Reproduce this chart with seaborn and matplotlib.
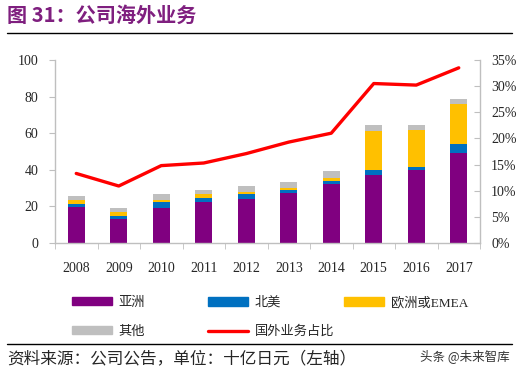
import seaborn as sns
import matplotlib.pyplot as plt
import matplotlib.lines as mlines
import matplotlib.patches as mpatches
import pandas as pd
import numpy as np

# Data (十亿日元)
years = ['2008', '2009', '2010', '2011', '2012', '2013', '2014', '2015', '2016', '2017']
asia = [19.8, 12.9, 19.0, 22.2, 23.9, 27.5, 32.4, 37.3, 40.1, 49.2]
north_america = [1.7, 1.8, 3.2, 2.6, 2.7, 1.6, 1.5, 2.8, 1.4, 4.9]
emea = [1.8, 2.1, 1.1, 2.1, 1.1, 0.9, 1.8, 21.3, 20.4, 21.7]
other = [2.5, 2.3, 3.5, 2.2, 3.3, 3.3, 3.6, 3.2, 2.7, 2.9]
overseas_pct = [13.3, 10.9, 14.8, 15.3, 17.1, 19.3, 21.0, 30.5, 30.2, 33.5]

series_names = ['亚洲', '北美', '欧洲或EMEA', '其他']
colors = ['#800080', '#0070C0', '#FFC000', '#BFBFBF']
line_color = '#FF0000'

stack = np.cumsum(np.array([asia, north_america, emea, other]), axis=0)

sns.set_style('white')
plt.rcParams['font.family'] = ['Liberation Serif', 'Noto Sans CJK SC', 'DejaVu Sans']

fig = plt.figure(figsize=(5.19, 3.73), dpi=100)
ax = fig.add_axes([55 / 519, 1 - 243 / 373, 425 / 519, 183 / 373])

# stacked bars: draw cumulative totals from top layer down
for i in range(len(series_names) - 1, -1, -1):
    df = pd.DataFrame({'year': years, 'value': stack[i]})
    sns.barplot(data=df, x='year', y='value', color=colors[i], width=0.4,
                saturation=1, ax=ax, edgecolor='none', linewidth=0)

ax.set_ylim(0, 100)
ax.set_yticks(range(0, 101, 20))
ax.set_xlim(-0.5, len(years) - 0.5)
ax.set_xlabel('')
ax.set_ylabel('')

ax2 = ax.twinx()
pct_df = pd.DataFrame({'x': np.arange(len(years)), 'pct': overseas_pct})
sns.lineplot(data=pct_df, x='x', y='pct', color=line_color, linewidth=2.4, ax=ax2,
             solid_joinstyle='round', solid_capstyle='round')
ax2.set_ylim(0, 35)
ax2.set_yticks(range(0, 36, 5))
ax2.set_yticklabels([f'{v}%' for v in range(0, 36, 5)])
ax2.set_xlim(-0.5, len(years) - 0.5)
ax2.set_xlabel('')
ax2.set_ylabel('')

for a in (ax, ax2):
    a.spines['top'].set_visible(False)
    for side in ('left', 'right', 'bottom'):
        a.spines[side].set_color('#BFBFBF')
        a.spines[side].set_linewidth(1)
ax.spines['right'].set_visible(False)
ax2.spines['left'].set_visible(False)
ax2.spines['bottom'].set_visible(False)

ax.tick_params(axis='y', length=4, color='#BFBFBF', labelsize=10, pad=8, left=True)
ax.tick_params(axis='x', length=0, labelsize=10, pad=14)
ax.set_xticks(np.arange(-0.5, len(years), 1), minor=True)
ax.tick_params(axis='x', which='minor', length=4, color='#BFBFBF', bottom=True)
ax2.tick_params(axis='y', length=4, color='#BFBFBF', direction='in', labelsize=10, pad=8, right=True)

# title and rules
fig.text(7 / 519, 1 - 15 / 373, '图 31：公司海外业务', color='#7F1F7F', fontsize=14.5,
         fontweight='bold', family=['Noto Sans CJK SC'], va='center', ha='left')
fig.add_artist(mlines.Line2D([7 / 519, 512 / 519], [1 - 33 / 373, 1 - 33 / 373],
                             color='black', linewidth=1))
fig.add_artist(mlines.Line2D([7 / 519, 512 / 519], [1 - 344 / 373, 1 - 344 / 373],
                             color='black', linewidth=1))
fig.text(7 / 519, 1 - 359 / 373, '资料来源：公司公告，单位：十亿日元（左轴）', fontsize=12,
         family=['Noto Sans CJK SC'], va='center', ha='left')
fig.text(510 / 519, 1 - 356 / 373, '头条 @未来智库', fontsize=9, color='#333333',
         family=['Noto Sans CJK SC'], va='center', ha='right')

# legend, three columns placed like the original
patches = [mpatches.Patch(color=c, label=n) for c, n in zip(colors, series_names)]
line_handle = mlines.Line2D([], [], color=line_color, linewidth=2.4, label='国外业务占比')
columns = [([patches[0], patches[3]], 72), ([patches[1], line_handle], 208), ([patches[2]], 344)]
for handles, xpx in columns:
    fig.legend(handles=handles, loc='upper left', bbox_to_anchor=(xpx / 519 - 0.012, 1 - 290 / 373),
               frameon=False, handlelength=3.0, handleheight=0.6, handletextpad=0.5,
               labelspacing=1.25, borderpad=0,
               prop={'family': ['Liberation Serif', 'Noto Sans CJK SC'], 'size': 9.5})

fig.savefig('out.png', dpi=100)
